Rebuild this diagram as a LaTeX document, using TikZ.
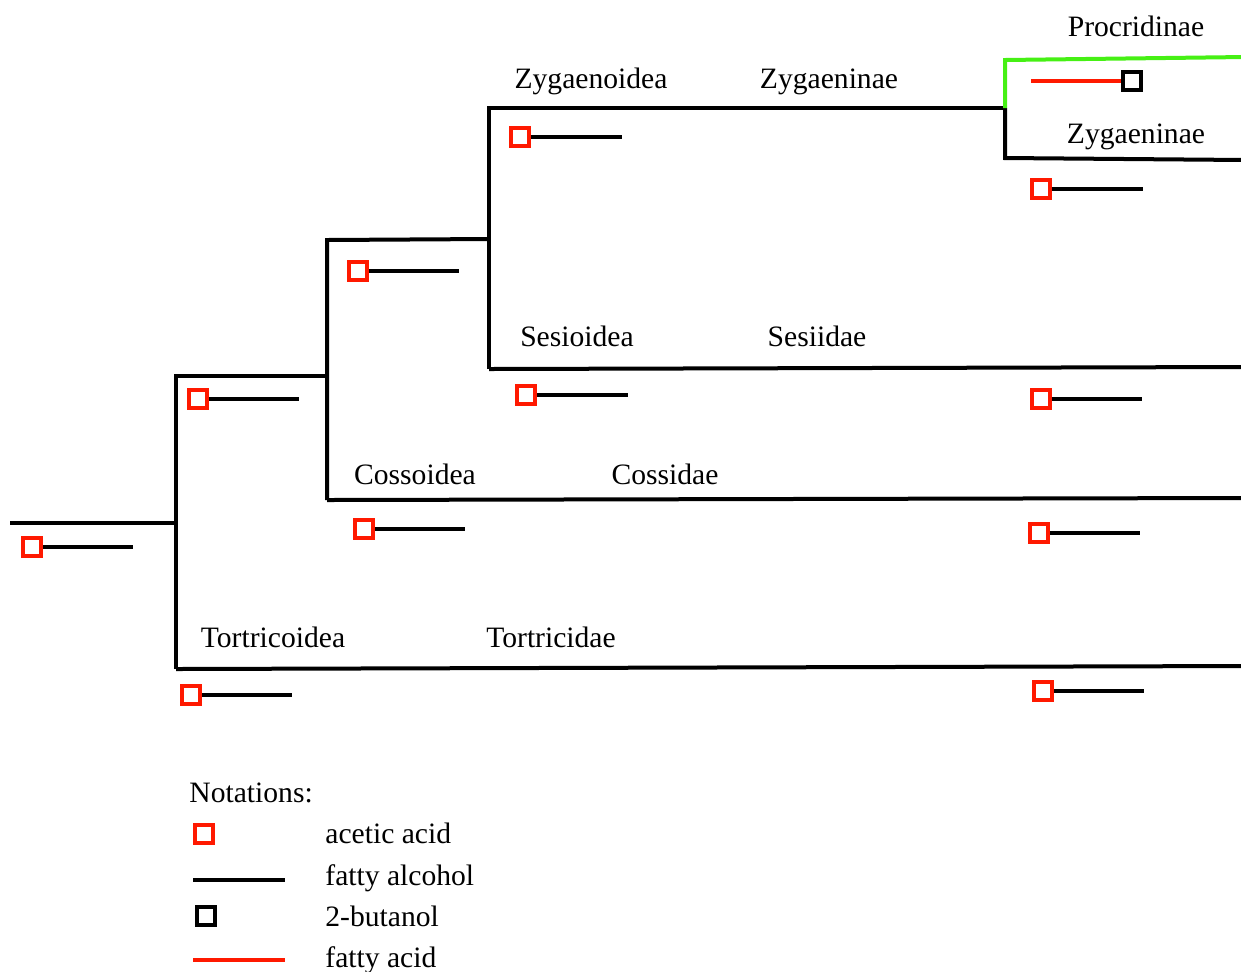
\documentclass[tikz,border=0pt]{standalone}
\usepackage{fontspec}
\setmainfont{Liberation Serif}
\definecolor{aceticred}{RGB}{255,25,0}
\definecolor{procgreen}{RGB}{70,240,20}
\begin{document}
\begin{tikzpicture}[x=0.5pt,y=-0.5pt,
  branch/.style={line width=2pt,black},
  greenbranch/.style={line width=2pt,procgreen},
  acet/.style={draw=aceticred,line width=1.8pt,minimum size=9.2pt,inner sep=0pt,fill=white},
  buta/.style={draw=black,line width=1.8pt,minimum size=9.2pt,inner sep=0pt,fill=white},
  alco/.style={line width=1.6pt,black},
  facid/.style={line width=1.6pt,aceticred},
  lbl/.style={font=\fontsize{14.8}{17}\selectfont,anchor=base,inner sep=0pt},
  leg/.style={font=\fontsize{14.8}{17}\selectfont,anchor=base west,inner sep=0pt}]
\useasboundingbox (0,0) rectangle (1241,971);

% tree junctions
\coordinate (r0) at (10,523);
\coordinate (j1t) at (176,376);
\coordinate (j1m) at (176,523);
\coordinate (j1b) at (176,669);
\coordinate (j2t) at (327,240);
\coordinate (j2b) at (327,500);
\coordinate (j3t) at (489,239);
\coordinate (j3tt) at (489,108);
\coordinate (j3b) at (489,369);
\coordinate (j4m) at (1005,108);
\coordinate (j4t) at (1005,60);
\coordinate (j4b) at (1005,158);
\coordinate (eP) at (1245,57);
\coordinate (eZ) at (1245,160);
\coordinate (eS) at (1245,367);
\coordinate (eC) at (1245,498);
\coordinate (eT) at (1245,666);

\draw[branch] (r0) -- (j1m);
\draw[branch] (j1b) -- (j1t) -- (j2t |- j1t);
\draw[branch] (j2b) -- (j2t) -- (j3t);
\draw[branch] (j3b) -- (j3tt) -- (j4m);
\draw[branch] (j4m) -- (j4b) -- (eZ);
\draw[greenbranch] (j4m) -- (j4t) -- (eP);
\draw[branch] (j3b) -- (eS);
\draw[branch] (j2b) -- (eC);
\draw[branch] (j1b) -- (eT);

% markers: acetic acid square + fatty alcohol line
\foreach \n/\x/\y/\e in {m0/32/547/133, m1/198/399/299, m2/358/271/459, m3/520/137/622,
  m4/1041/189/1143, m5/526/395/628, m6/1041/399/1142, m7/364/529/465,
  m8/1039/533/1140, m9/191/695/292, m10/1043/691/1144}{
  \coordinate (\n e) at (\e,\y);
  \draw[alco] (\x,\y) -- (\n e);
  \node[acet] (\n) at (\x,\y) {};
}
% Procridinae: fatty acid + 2-butanol
\coordinate (pa) at (1031,81);
\draw[facid] (pa) -- (1122,81);
\node[buta] (pb) at (1132,81) {};

% labels
\node[lbl] (lProc) at (1136,36) {Procridinae};
\node[lbl] (lZyg) at (591,88) {Zygaenoidea};
\node[lbl] (lZyn1) at (829,88) {Zygaeninae};
\node[lbl] (lZyn2) at (1136,143) {Zygaeninae};
\node[lbl] (lSes) at (577,346) {Sesioidea};
\node[lbl] (lSesi) at (817,346) {Sesiidae};
\node[lbl] (lCos) at (415,484) {Cossoidea};
\node[lbl] (lCosi) at (665,484) {Cossidae};
\node[lbl] (lTor) at (273,647) {Tortricoidea};
\node[lbl] (lTori) at (551,647) {Tortricidae};

% legend
\node[leg] (lNot) at (189,802) {Notations:};
\node[acet] (gA) at (204,834) {};
\node[leg] (tA) at (325,843) {acetic acid};
\coordinate (gL1) at (193,880);
\coordinate (gL2) at (285,880);
\draw[alco] (gL1) -- (gL2);
\node[leg] (tL) at (325,885) {fatty alcohol};
\node[buta] (gB) at (206,916) {};
\node[leg] (tB) at (325,926) {2-butanol};
\coordinate (gF1) at (193,960);
\coordinate (gF2) at (285,960);
\draw[facid] (gF1) -- (gF2);
\node[leg] (tF) at (325,967) {fatty acid};
\end{tikzpicture}
\end{document}
